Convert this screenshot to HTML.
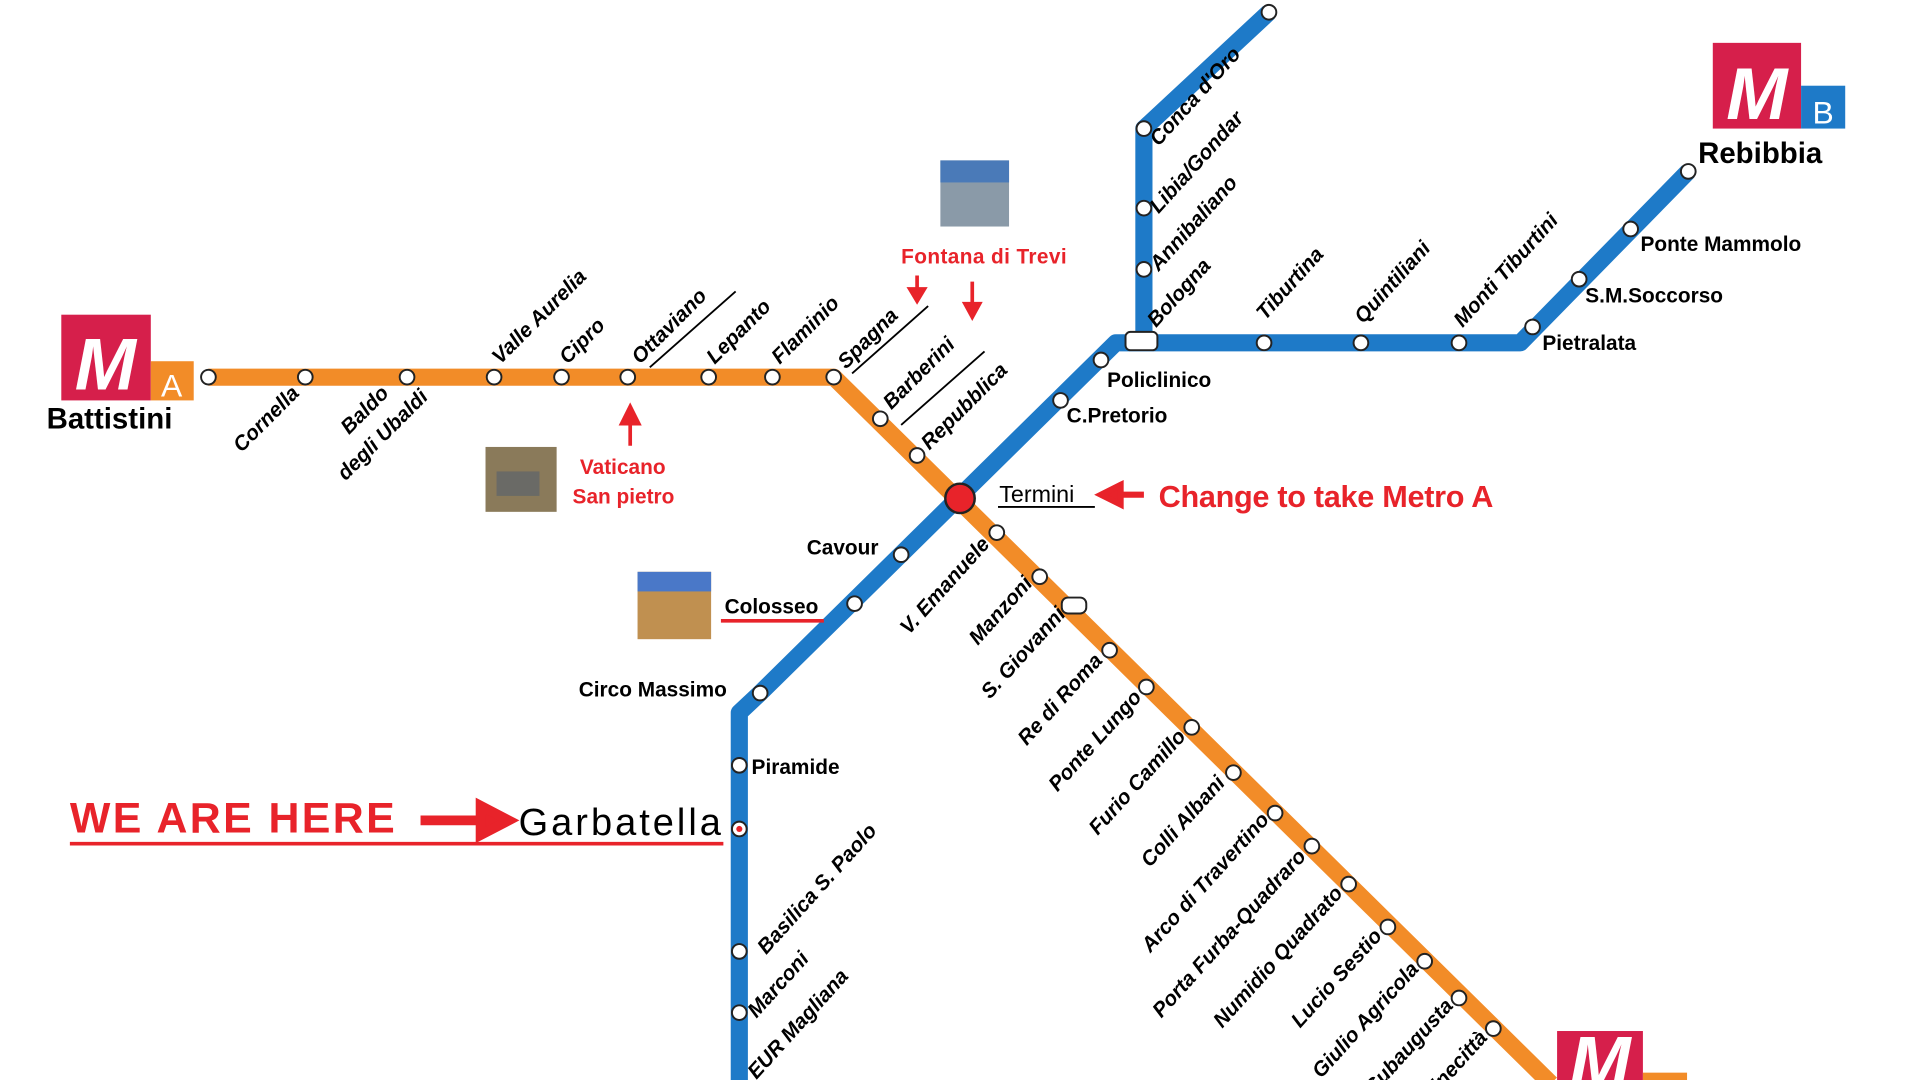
<!DOCTYPE html>
<html><head><meta charset="utf-8"><style>
html,body{margin:0;padding:0;background:#fff;width:1920px;height:1080px;overflow:hidden}
svg{display:block}
text{font-family:"Liberation Sans",Arial,sans-serif;font-weight:bold;fill:#000}
.s{font-size:17px;font-style:italic}
.h{font-size:17px}
</style></head><body>
<svg width="1920" height="1080" viewBox="0 0 1566 882" preserveAspectRatio="none" xmlns="http://www.w3.org/2000/svg">
<polyline points="170,308 680,308 1265,885" fill="none" stroke="#f28c28" stroke-width="14" stroke-linejoin="round"/>
<polyline points="603,890 603,582 620,566 910,280 1240,280 1377,140" fill="none" stroke="#1e7ac8" stroke-width="14" stroke-linejoin="round"/>
<polyline points="933,280 933,105 1035,10" fill="none" stroke="#1e7ac8" stroke-width="14" stroke-linejoin="round"/>
<g fill="#fff" stroke="#222" stroke-width="1.6">
<circle cx="170" cy="308" r="6"/><circle cx="249" cy="308" r="6"/><circle cx="332" cy="308" r="6"/><circle cx="403" cy="308" r="6"/><circle cx="458" cy="308" r="6"/><circle cx="512" cy="308" r="6"/><circle cx="578" cy="308" r="6"/><circle cx="630" cy="308" r="6"/><circle cx="680" cy="308" r="6"/>
<circle cx="718" cy="342" r="6"/><circle cx="748" cy="372" r="6"/><circle cx="813" cy="435" r="6"/><circle cx="848" cy="471" r="6"/><circle cx="905" cy="531" r="6"/><circle cx="935" cy="561" r="6"/><circle cx="972" cy="594" r="6"/><circle cx="1006" cy="631" r="6"/><circle cx="1040" cy="664" r="6"/><circle cx="1070" cy="691" r="6"/><circle cx="1100" cy="722" r="6"/><circle cx="1132" cy="757" r="6"/><circle cx="1162" cy="785" r="6"/><circle cx="1190" cy="815" r="6"/><circle cx="1218" cy="840" r="6"/>
<rect x="866" y="488" width="20" height="13" rx="5"/>
<circle cx="603" cy="827" r="6"/><circle cx="603" cy="777" r="6"/><circle cx="603" cy="625" r="6"/><circle cx="620" cy="566" r="6"/><circle cx="697" cy="493" r="6"/><circle cx="735" cy="453" r="6"/><circle cx="865" cy="327" r="6"/><circle cx="898" cy="294" r="6"/>
<rect x="918" y="271" width="26" height="15" rx="4"/>
<circle cx="1031" cy="280" r="6"/><circle cx="1110" cy="280" r="6"/><circle cx="1190" cy="280" r="6"/><circle cx="1250" cy="267" r="6"/><circle cx="1288" cy="228" r="6"/><circle cx="1330" cy="187" r="6"/><circle cx="1377" cy="140" r="6"/>
<circle cx="933" cy="220" r="6"/><circle cx="933" cy="170" r="6"/><circle cx="933" cy="105" r="6"/><circle cx="1035" cy="10" r="6"/>
<circle cx="603" cy="677" r="6"/>
</g>
<circle cx="603" cy="677" r="2.5" fill="#e8232a"/>
<circle cx="783" cy="407" r="12" fill="#e8232a" stroke="#222" stroke-width="2"/>
<rect x="50" y="257" width="73" height="70" fill="#d61f4b"/><rect x="123" y="295" width="35" height="32" fill="#f28c28"/>
<text x="86" y="318" text-anchor="middle" style="font-size:60px;fill:#fff;font-style:italic">M</text>
<text x="140" y="324" text-anchor="middle" style="font-size:26px;fill:#fff;font-weight:normal">A</text>
<text x="38" y="350" style="font-size:24px">Battistini</text>
<rect x="1397" y="35" width="72" height="70" fill="#d61f4b"/><rect x="1469" y="70" width="36" height="35" fill="#1e7ac8"/>
<text x="1433" y="97" text-anchor="middle" style="font-size:60px;fill:#fff;font-style:italic">M</text>
<text x="1487" y="101" text-anchor="middle" style="font-size:26px;fill:#fff;font-weight:normal">B</text>
<text x="1385" y="133" style="font-size:24px">Rebibbia</text>
<rect x="1270" y="842" width="70" height="45" fill="#d61f4b"/><rect x="1340" y="876" width="36" height="10" fill="#f28c28"/>
<text x="1305" y="888" text-anchor="middle" style="font-size:60px;fill:#fff;font-style:italic">M</text>
<rect x="396" y="365" width="58" height="53" fill="#8a7a5a"/><rect x="405" y="385" width="35" height="20" fill="#6a6a66"/>
<rect x="767" y="131" width="56" height="54" fill="#8a9aa8"/><rect x="767" y="131" width="56" height="18" fill="#4a7ab8"/>
<rect x="520" y="467" width="60" height="55" fill="#c09050"/><rect x="520" y="467" width="60" height="16" fill="#4a78c8"/>
<text x="735" y="215" style="font-size:17px;fill:#e8232a" textLength="135">Fontana di Trevi</text>
<path d="M748 225 V240 M742 236 L748 246 L754 236Z M793 230 V252 M787 248 L793 259 L799 248Z" stroke="#e8232a" stroke-width="3" fill="#e8232a"/>
<path d="M514 364 V342 M507 346 L514 332 L521 346Z" stroke="#e8232a" stroke-width="3" fill="#e8232a"/>
<text x="473" y="387" style="font-size:17px;fill:#e8232a">Vaticano</text>
<text x="467" y="411" style="font-size:17px;fill:#e8232a">San pietro</text>
<path d="M933 404 H912 M914 396 L898 404 L914 412Z" stroke="#e8232a" stroke-width="5" fill="#e8232a"/>
<text x="945" y="414" style="font-size:25px;fill:#e8232a" textLength="273">Change to take Metro A</text>
<text x="57" y="680" style="font-size:35px;fill:#e8232a" textLength="265">WE ARE HERE</text>
<line x1="57" y1="689" x2="590" y2="689" stroke="#e8232a" stroke-width="3"/>
<path d="M343 670 H395 M392 658 L415 670 L392 682Z" stroke="#e8232a" stroke-width="8" fill="#e8232a"/>
<text x="423" y="682" style="font-size:31px;font-weight:normal" textLength="165">Garbatella</text>
<line x1="588" y1="507" x2="672" y2="507" stroke="#e8232a" stroke-width="3"/>
<g class="h">
<text x="903" y="316">Policlinico</text><text x="870" y="345">C.Pretorio</text>
<text x="815" y="410" style="font-weight:normal;font-size:19px">Termini</text>
<text x="658" y="453">Cavour</text><text x="591" y="501">Colosseo</text>
<text x="472" y="569">Circo Massimo</text><text x="613" y="632">Piramide</text>
<text x="1258" y="286">Pietralata</text><text x="1293" y="247">S.M.Soccorso</text><text x="1338" y="205">Ponte Mammolo</text>
</g>
<line x1="814" y1="414" x2="893" y2="414" stroke="#000" stroke-width="1.5"/>
<g class="s">
<text transform="translate(408,298) rotate(-45)">Valle Aurelia</text>
<text transform="translate(463,298) rotate(-45)">Cipro</text>
<text transform="translate(522,298) rotate(-45)">Ottaviano</text>
<text transform="translate(583,298) rotate(-45)">Lepanto</text>
<text transform="translate(636,298) rotate(-45)">Flaminio</text>
<text transform="translate(690,302) rotate(-45)">Spagna</text>
<text transform="translate(727,335) rotate(-45)">Barberini</text>
<text transform="translate(758,368) rotate(-45)">Repubblica</text>
<text transform="translate(945,120) rotate(-48)">Conca d'Oro</text>
<text transform="translate(945,175) rotate(-48)">Libia/Gondar</text>
<text transform="translate(945,222) rotate(-48)">Annibaliano</text>
<text transform="translate(943,268) rotate(-48)">Bologna</text>
<text transform="translate(1032,262) rotate(-48)">Tiburtina</text>
<text transform="translate(1112,265) rotate(-48)">Quintiliani</text>
<text transform="translate(1193,268) rotate(-48)">Monti Tiburtini</text>
<text transform="translate(625,780) rotate(-48)">Basilica S. Paolo</text>
<text transform="translate(617,832) rotate(-48)">Marconi</text>
<text transform="translate(617,882) rotate(-48)">EUR Magliana</text>
</g>
<path d="M530 300 L600 238 M695 305 L757 250 M735 347 L803 287" stroke="#000" stroke-width="1.5"/>
<g class="s" text-anchor="end">
<text transform="translate(245,322) rotate(-45)">Cornella</text>
<text transform="translate(318,322) rotate(-45)">Baldo</text>
<text transform="translate(350,325) rotate(-45)">degli Ubaldi</text>
<text transform="translate(808,445) rotate(-48)">V. Emanuele</text>
<text transform="translate(843,477) rotate(-48)">Manzoni</text>
<text transform="translate(870,502) rotate(-48)">S. Giovanni</text>
<text transform="translate(900,540) rotate(-48)">Re di Roma</text>
<text transform="translate(932,570) rotate(-48)">Ponte Lungo</text>
<text transform="translate(968,602) rotate(-48)">Furio Camillo</text>
<text transform="translate(1000,640) rotate(-48)">Colli Albani</text>
<text transform="translate(1036,670) rotate(-48)">Arco di Travertino</text>
<text transform="translate(1066,700) rotate(-48)">Porta Furba-Quadraro</text>
<text transform="translate(1096,730) rotate(-48)">Numidio Quadrato</text>
<text transform="translate(1128,765) rotate(-48)">Lucio Sestio</text>
<text transform="translate(1158,792) rotate(-48)">Giulio Agricola</text>
<text transform="translate(1186,822) rotate(-48)">Subaugusta</text>
<text transform="translate(1214,848) rotate(-48)">Cinecittà</text>
</g>
</svg>
</body></html>
